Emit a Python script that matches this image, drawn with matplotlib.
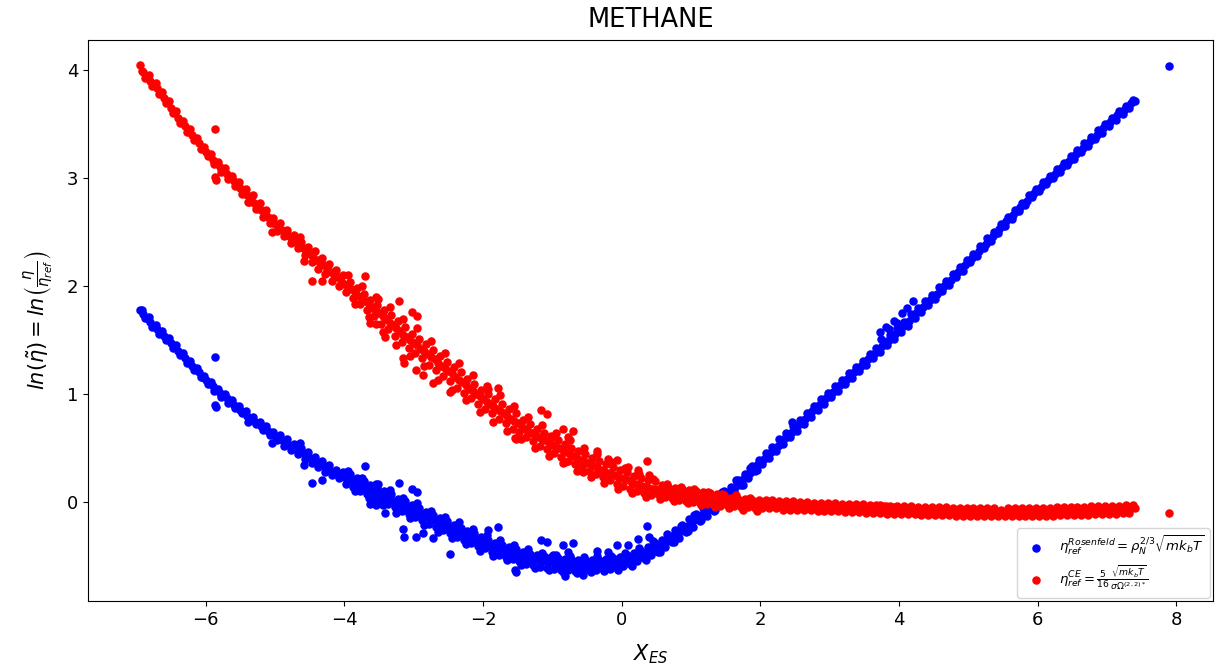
import numpy as np
import matplotlib
matplotlib.use("Agg")
import matplotlib.pyplot as plt

# state points, first sweep: X_ES and ln(eta/eta_ref) for both references
x_es = [
    -6.95, -6.90, -6.85, -6.80, -6.75, -6.70, -6.65, -6.60, -6.55, -6.50,
    -6.45, -6.40, -6.35, -6.30, -6.25, -6.20, -6.15, -6.10, -6.05, -6.00,
    -5.95, -5.90, -5.85, -5.80, -5.75, -5.70, -5.65, -5.60, -5.55, -5.50,
    -5.45, -5.40, -5.35, -5.30, -5.25, -5.20, -5.15, -5.10, -5.05, -5.00,
    -4.95, -4.90, -4.85, -4.80, -4.75, -4.70, -4.65, -4.60, -4.55, -4.50,
    -4.45, -4.40, -4.35, -4.30, -4.25, -4.20, -4.15, -4.10, -4.05, -4.00,
    -3.95, -3.90, -3.85, -3.80, -3.75, -3.70, -3.65, -3.60, -3.55, -3.50,
    -3.45, -3.40, -3.35, -3.30, -3.25, -3.20, -3.15, -3.10, -3.05, -3.00,
    -2.95, -2.90, -2.85, -2.80, -2.75, -2.70, -2.65, -2.60, -2.55, -2.50,
    -2.45, -2.40, -2.35, -2.30, -2.25, -2.20, -2.15, -2.10, -2.05, -2.00,
    -1.95, -1.90, -1.85, -1.80, -1.75, -1.70, -1.65, -1.60, -1.55, -1.50,
    -1.45, -1.40, -1.35, -1.30, -1.25, -1.20, -1.15, -1.10, -1.05, -1.00,
    -0.95, -0.90, -0.85, -0.80, -0.75, -0.70, -0.65, -0.60, -0.55, -0.50,
    -0.45, -0.40, -0.35, -0.30, -0.25, -0.20, -0.15, -0.10, -0.05, 0.00,
    0.05, 0.10, 0.15, 0.20, 0.25, 0.30, 0.35, 0.40, 0.45, 0.50,
    0.55, 0.60, 0.65, 0.70, 0.75, 0.80, 0.85, 0.90, 0.95, 1.00,
    1.05, 1.10, 1.15, 1.20, 1.25, 1.30, 1.35, 1.40, 1.45, 1.50,
    1.55, 1.60, 1.65, 1.70, 1.75, 1.80, 1.85, 1.90, 1.95, 2.00,
    2.05, 2.10, 2.15, 2.20, 2.25, 2.30, 2.35, 2.40, 2.45, 2.50,
    2.55, 2.60, 2.65, 2.70, 2.75, 2.80, 2.85, 2.90, 2.95, 3.00,
    3.05, 3.10, 3.15, 3.20, 3.25, 3.30, 3.35, 3.40, 3.45, 3.50,
    3.55, 3.60, 3.65, 3.70, 3.75, 3.80, 3.85, 3.90, 3.95, 4.00,
    4.05, 4.10, 4.15, 4.20, 4.25, 4.30, 4.35, 4.40, 4.45, 4.50,
    4.55, 4.60, 4.65, 4.70, 4.75, 4.80, 4.85, 4.90, 4.95, 5.00,
    5.05, 5.10, 5.15, 5.20, 5.25, 5.30, 5.35, 5.40, 5.45, 5.50,
    5.55, 5.60, 5.65, 5.70, 5.75, 5.80, 5.85, 5.90, 5.95, 6.00,
    6.05, 6.10, 6.15, 6.20, 6.25, 6.30, 6.35, 6.40, 6.45, 6.50,
    6.55, 6.60, 6.65, 6.70, 6.75, 6.80, 6.85, 6.90, 6.95, 7.00,
    7.05, 7.10, 7.15, 7.20, 7.25, 7.30, 7.35, 7.40, 7.90,
]
ln_eta_ros = [
    1.78, 1.74, 1.70, 1.67, 1.63, 1.60, 1.57, 1.54, 1.51, 1.47,
    1.44, 1.40, 1.37, 1.33, 1.30, 1.26, 1.23, 1.20, 1.16, 1.13,
    1.10, 1.07, 1.04, 1.01, 0.98, 0.96, 0.93, 0.90, 0.88, 0.85,
    0.83, 0.80, 0.78, 0.75, 0.73, 0.70, 0.68, 0.66, 0.63, 0.61,
    0.59, 0.57, 0.55, 0.53, 0.51, 0.49, 0.47, 0.45, 0.43, 0.41,
    0.39, 0.37, 0.35, 0.33, 0.31, 0.29, 0.28, 0.26, 0.25, 0.23,
    0.21, 0.20, 0.18, 0.16, 0.15, 0.13, 0.12, 0.10, 0.09, 0.07,
    0.06, 0.04, 0.03, 0.01, -0.01, -0.02, -0.04, -0.05, -0.07, -0.08,
    -0.10, -0.11, -0.13, -0.14, -0.16, -0.17, -0.19, -0.20, -0.22, -0.23,
    -0.25, -0.26, -0.28, -0.29, -0.31, -0.32, -0.33, -0.35, -0.36, -0.37,
    -0.39, -0.40, -0.42, -0.43, -0.44, -0.45, -0.46, -0.47, -0.48, -0.49,
    -0.50, -0.51, -0.52, -0.53, -0.53, -0.54, -0.55, -0.55, -0.56, -0.56,
    -0.57, -0.57, -0.58, -0.58, -0.58, -0.58, -0.59, -0.59, -0.59, -0.58,
    -0.58, -0.58, -0.58, -0.58, -0.57, -0.57, -0.57, -0.56, -0.56, -0.55,
    -0.54, -0.53, -0.52, -0.51, -0.50, -0.48, -0.47, -0.45, -0.43, -0.42,
    -0.40, -0.38, -0.36, -0.34, -0.31, -0.29, -0.27, -0.24, -0.22, -0.19,
    -0.17, -0.14, -0.12, -0.09, -0.07, -0.04, -0.02, 0.01, 0.04, 0.07,
    0.09, 0.12, 0.15, 0.18, 0.21, 0.24, 0.27, 0.31, 0.34, 0.37,
    0.40, 0.43, 0.46, 0.49, 0.52, 0.56, 0.59, 0.62, 0.65, 0.68,
    0.71, 0.74, 0.77, 0.80, 0.84, 0.87, 0.90, 0.93, 0.96, 0.99,
    1.02, 1.05, 1.08, 1.11, 1.14, 1.17, 1.20, 1.23, 1.26, 1.29,
    1.32, 1.35, 1.38, 1.41, 1.44, 1.47, 1.50, 1.53, 1.56, 1.59,
    1.62, 1.65, 1.68, 1.72, 1.75, 1.78, 1.81, 1.84, 1.87, 1.90,
    1.93, 1.97, 2.00, 2.03, 2.06, 2.09, 2.13, 2.16, 2.19, 2.22,
    2.26, 2.29, 2.32, 2.36, 2.39, 2.43, 2.46, 2.49, 2.53, 2.56,
    2.60, 2.63, 2.66, 2.69, 2.73, 2.76, 2.79, 2.83, 2.86, 2.89,
    2.92, 2.95, 2.98, 3.01, 3.04, 3.07, 3.10, 3.13, 3.16, 3.19,
    3.22, 3.25, 3.28, 3.31, 3.34, 3.37, 3.40, 3.43, 3.46, 3.49,
    3.52, 3.55, 3.58, 3.60, 3.63, 3.66, 3.69, 3.71, 4.04,
]
ln_eta_ce = [
    4.05, 3.98, 3.94, 3.90, 3.86, 3.83, 3.79, 3.74, 3.70, 3.65,
    3.61, 3.56, 3.52, 3.48, 3.44, 3.40, 3.36, 3.32, 3.28, 3.24,
    3.21, 3.17, 3.14, 3.10, 3.07, 3.04, 3.00, 2.97, 2.94, 2.91,
    2.87, 2.84, 2.81, 2.77, 2.74, 2.70, 2.67, 2.64, 2.60, 2.57,
    2.54, 2.52, 2.49, 2.46, 2.43, 2.41, 2.38, 2.35, 2.32, 2.30,
    2.27, 2.24, 2.21, 2.19, 2.16, 2.13, 2.10, 2.08, 2.05, 2.02,
    1.99, 1.97, 1.94, 1.91, 1.88, 1.86, 1.83, 1.80, 1.77, 1.75,
    1.72, 1.69, 1.66, 1.64, 1.61, 1.58, 1.55, 1.53, 1.50, 1.47,
    1.45, 1.42, 1.40, 1.37, 1.34, 1.32, 1.29, 1.26, 1.24, 1.21,
    1.19, 1.16, 1.13, 1.11, 1.08, 1.05, 1.03, 1.00, 0.98, 0.95,
    0.93, 0.91, 0.89, 0.86, 0.84, 0.82, 0.80, 0.77, 0.75, 0.73,
    0.71, 0.68, 0.66, 0.64, 0.62, 0.60, 0.58, 0.57, 0.55, 0.53,
    0.51, 0.50, 0.48, 0.46, 0.44, 0.43, 0.41, 0.39, 0.38, 0.36,
    0.35, 0.33, 0.32, 0.30, 0.29, 0.27, 0.26, 0.25, 0.23, 0.22,
    0.21, 0.20, 0.18, 0.17, 0.16, 0.15, 0.14, 0.13, 0.12, 0.12,
    0.11, 0.10, 0.09, 0.09, 0.08, 0.07, 0.07, 0.06, 0.06, 0.05,
    0.05, 0.04, 0.04, 0.03, 0.03, 0.02, 0.02, 0.01, 0.01, 0.01,
    0.00, 0.00, 0.00, -0.01, -0.01, -0.01, -0.01, -0.02, -0.02, -0.02,
    -0.02, -0.02, -0.02, -0.02, -0.03, -0.03, -0.03, -0.03, -0.03, -0.03,
    -0.03, -0.03, -0.03, -0.03, -0.04, -0.04, -0.04, -0.04, -0.04, -0.04,
    -0.04, -0.04, -0.05, -0.05, -0.05, -0.05, -0.05, -0.06, -0.06, -0.06,
    -0.06, -0.06, -0.06, -0.06, -0.07, -0.07, -0.07, -0.07, -0.07, -0.07,
    -0.07, -0.07, -0.07, -0.07, -0.08, -0.08, -0.08, -0.08, -0.08, -0.08,
    -0.08, -0.08, -0.08, -0.08, -0.09, -0.09, -0.09, -0.09, -0.09, -0.09,
    -0.09, -0.09, -0.09, -0.09, -0.09, -0.09, -0.09, -0.09, -0.10, -0.10,
    -0.09, -0.09, -0.09, -0.09, -0.09, -0.09, -0.09, -0.09, -0.09, -0.09,
    -0.09, -0.09, -0.09, -0.09, -0.09, -0.08, -0.08, -0.08, -0.08, -0.08,
    -0.08, -0.08, -0.08, -0.08, -0.08, -0.07, -0.07, -0.07, -0.07, -0.07,
    -0.07, -0.07, -0.07, -0.07, -0.06, -0.06, -0.06, -0.06, -0.10,
]

# second sweep, shifted half a step in X_ES
x_es_2 = [
    -6.925, -6.875, -6.825, -6.775, -6.725, -6.675, -6.625, -6.575, -6.525, -6.475,
    -6.425, -6.375, -6.325, -6.275, -6.225, -6.175, -6.125, -6.075, -6.025, -5.975,
    -5.925, -5.875, -5.825, -5.775, -5.725, -5.675, -5.625, -5.575, -5.525, -5.475,
    -5.425, -5.375, -5.325, -5.275, -5.225, -5.175, -5.125, -5.075, -5.025, -4.975,
    -4.925, -4.875, -4.825, -4.775, -4.725, -4.675, -4.625, -4.575, -4.525, -4.475,
    -4.425, -4.375, -4.325, -4.275, -4.225, -4.175, -4.125, -4.075, -4.025, -3.975,
    -3.925, -3.875, -3.825, -3.775, -3.725, -3.675, -3.625, -3.575, -3.525, -3.475,
    -3.425, -3.375, -3.325, -3.275, -3.225, -3.175, -3.125, -3.075, -3.025, -2.975,
    -2.925, -2.875, -2.825, -2.775, -2.725, -2.675, -2.625, -2.575, -2.525, -2.475,
    -2.425, -2.375, -2.325, -2.275, -2.225, -2.175, -2.125, -2.075, -2.025, -1.975,
    -1.925, -1.875, -1.825, -1.775, -1.725, -1.675, -1.625, -1.575, -1.525, -1.475,
    -1.425, -1.375, -1.325, -1.275, -1.225, -1.175, -1.125, -1.075, -1.025, -0.975,
    -0.925, -0.875, -0.825, -0.775, -0.725, -0.675, -0.625, -0.575, -0.525, -0.475,
    -0.425, -0.375, -0.325, -0.275, -0.225, -0.175, -0.125, -0.075, -0.025, 0.025,
    0.075, 0.125, 0.175, 0.225, 0.275, 0.325, 0.375, 0.425, 0.475, 0.525,
    0.575, 0.625, 0.675, 0.725, 0.775, 0.825, 0.875, 0.925, 0.975, 1.025,
    1.075, 1.125, 1.175, 1.225, 1.275, 1.325, 1.375, 1.425, 1.475, 1.525,
    1.575, 1.625, 1.675, 1.725, 1.775, 1.825, 1.875, 1.925, 1.975, 2.025,
    2.075, 2.125, 2.175, 2.225, 2.275, 2.325, 2.375, 2.425, 2.475, 2.525,
    2.575, 2.625, 2.675, 2.725, 2.775, 2.825, 2.875, 2.925, 2.975, 3.025,
    3.075, 3.125, 3.175, 3.225, 3.275, 3.325, 3.375, 3.425, 3.475, 3.525,
    3.575, 3.625, 3.675, 3.725, 3.775, 3.825, 3.875, 3.925, 3.975, 4.025,
    4.075, 4.125, 4.175, 4.225, 4.275, 4.325, 4.375, 4.425, 4.475, 4.525,
    4.575, 4.625, 4.675, 4.725, 4.775, 4.825, 4.875, 4.925, 4.975, 5.025,
    5.075, 5.125, 5.175, 5.225, 5.275, 5.325, 5.375, 5.425, 5.475, 5.525,
    5.575, 5.625, 5.675, 5.725, 5.775, 5.825, 5.875, 5.925, 5.975, 6.025,
    6.075, 6.125, 6.175, 6.225, 6.275, 6.325, 6.375, 6.425, 6.475, 6.525,
    6.575, 6.625, 6.675, 6.725, 6.775, 6.825, 6.875, 6.925, 6.975, 7.025,
    7.075, 7.125, 7.175, 7.225, 7.275, 7.325, 7.375,
]
ln_eta_ros_2 = [
    1.78, 1.70, 1.71, 1.62, 1.64, 1.56, 1.58, 1.50, 1.52, 1.43,
    1.45, 1.36, 1.38, 1.29, 1.31, 1.22, 1.24, 1.16, 1.17, 1.09,
    1.11, 1.03, 1.05, 0.97, 1.00, 0.92, 0.94, 0.87, 0.89, 0.82,
    0.84, 0.77, 0.79, 0.72, 0.74, 0.67, 0.70, 0.62, 0.65, 0.57,
    0.62, 0.52, 0.58, 0.48, 0.54, 0.44, 0.50, 0.40, 0.46, 0.36,
    0.42, 0.32, 0.38, 0.28, 0.34, 0.25, 0.30, 0.22, 0.28, 0.17,
    0.26, 0.14, 0.22, 0.10, 0.19, 0.07, 0.16, 0.04, 0.13, 0.01,
    0.10, -0.02, 0.07, -0.05, 0.03, -0.08, 0.01, -0.11, -0.03, -0.14,
    -0.06, -0.17, -0.09, -0.20, -0.12, -0.23, -0.15, -0.26, -0.18, -0.29,
    -0.21, -0.32, -0.24, -0.35, -0.27, -0.38, -0.29, -0.41, -0.32, -0.43,
    -0.35, -0.46, -0.38, -0.49, -0.40, -0.51, -0.42, -0.53, -0.44, -0.55,
    -0.46, -0.57, -0.48, -0.58, -0.49, -0.60, -0.50, -0.61, -0.51, -0.62,
    -0.52, -0.63, -0.53, -0.63, -0.53, -0.64, -0.54, -0.64, -0.54, -0.63,
    -0.54, -0.63, -0.54, -0.62, -0.53, -0.62, -0.52, -0.61, -0.51, -0.59,
    -0.49, -0.57, -0.47, -0.55, -0.45, -0.52, -0.42, -0.49, -0.38, -0.46,
    -0.35, -0.42, -0.31, -0.37, -0.26, -0.33, -0.21, -0.28, -0.16, -0.23,
    -0.11, -0.18, -0.06, -0.13, -0.01, -0.08, 0.04, -0.02, 0.10, 0.05,
    0.14, 0.10, 0.20, 0.16, 0.26, 0.22, 0.33, 0.29, 0.39, 0.35,
    0.45, 0.41, 0.51, 0.47, 0.58, 0.54, 0.64, 0.60, 0.70, 0.66,
    0.76, 0.72, 0.82, 0.79, 0.89, 0.85, 0.95, 0.91, 1.01, 0.97,
    1.07, 1.03, 1.13, 1.09, 1.19, 1.15, 1.25, 1.21, 1.31, 1.27,
    1.37, 1.33, 1.43, 1.39, 1.49, 1.45, 1.55, 1.51, 1.61, 1.57,
    1.67, 1.63, 1.74, 1.70, 1.80, 1.76, 1.86, 1.82, 1.92, 1.88,
    1.99, 1.95, 2.05, 2.01, 2.11, 2.08, 2.18, 2.14, 2.24, 2.22,
    2.30, 2.28, 2.37, 2.35, 2.44, 2.42, 2.50, 2.49, 2.57, 2.56,
    2.64, 2.62, 2.70, 2.69, 2.77, 2.75, 2.84, 2.82, 2.90, 2.88,
    2.96, 2.94, 3.02, 3.00, 3.08, 3.06, 3.14, 3.12, 3.20, 3.18,
    3.26, 3.24, 3.32, 3.30, 3.38, 3.36, 3.44, 3.42, 3.50, 3.48,
    3.56, 3.54, 3.62, 3.59, 3.67, 3.65, 3.72,
]
ln_eta_ce_2 = [
    3.99, 3.93, 3.95, 3.85, 3.88, 3.78, 3.80, 3.69, 3.71, 3.60,
    3.62, 3.51, 3.53, 3.43, 3.45, 3.35, 3.37, 3.27, 3.29, 3.20,
    3.22, 3.13, 3.15, 3.06, 3.09, 2.99, 3.02, 2.93, 2.96, 2.85,
    2.90, 2.78, 2.84, 2.71, 2.77, 2.64, 2.70, 2.58, 2.63, 2.51,
    2.58, 2.46, 2.52, 2.40, 2.47, 2.35, 2.41, 2.29, 2.36, 2.22,
    2.32, 2.16, 2.26, 2.11, 2.20, 2.05, 2.15, 2.00, 2.10, 1.94,
    2.04, 1.89, 1.98, 1.83, 1.93, 1.78, 1.87, 1.72, 1.82, 1.65,
    1.78, 1.60, 1.73, 1.54, 1.68, 1.48, 1.62, 1.43, 1.56, 1.38,
    1.51, 1.33, 1.46, 1.27, 1.41, 1.22, 1.35, 1.17, 1.30, 1.12,
    1.25, 1.06, 1.20, 1.01, 1.14, 0.96, 1.09, 0.91, 1.04, 0.86,
    1.00, 0.82, 0.95, 0.77, 0.91, 0.73, 0.86, 0.68, 0.82, 0.65,
    0.76, 0.60, 0.72, 0.56, 0.68, 0.52, 0.64, 0.49, 0.61, 0.45,
    0.57, 0.42, 0.54, 0.38, 0.50, 0.35, 0.47, 0.32, 0.44, 0.29,
    0.41, 0.26, 0.38, 0.23, 0.35, 0.20, 0.32, 0.17, 0.30, 0.15,
    0.28, 0.12, 0.24, 0.10, 0.22, 0.08, 0.20, 0.06, 0.19, 0.07,
    0.16, 0.05, 0.14, 0.04, 0.13, 0.02, 0.12, 0.01, 0.11, 0.00,
    0.10, -0.01, 0.09, -0.02, 0.08, -0.03, 0.07, -0.04, 0.06, -0.03,
    0.04, -0.04, 0.03, -0.05, 0.03, -0.05, 0.02, -0.06, 0.02, -0.06,
    0.02, -0.06, 0.02, -0.06, 0.01, -0.07, 0.01, -0.07, 0.01, -0.07,
    0.00, -0.07, 0.00, -0.07, -0.01, -0.08, -0.01, -0.08, -0.01, -0.08,
    -0.01, -0.08, -0.02, -0.09, -0.02, -0.09, -0.02, -0.09, -0.02, -0.10,
    -0.03, -0.10, -0.03, -0.10, -0.04, -0.11, -0.04, -0.11, -0.04, -0.11,
    -0.04, -0.11, -0.04, -0.11, -0.05, -0.12, -0.05, -0.12, -0.05, -0.12,
    -0.05, -0.12, -0.05, -0.12, -0.06, -0.13, -0.06, -0.13, -0.06, -0.13,
    -0.06, -0.13, -0.06, -0.13, -0.06, -0.13, -0.06, -0.13, -0.07, -0.13,
    -0.06, -0.13, -0.06, -0.13, -0.06, -0.13, -0.06, -0.13, -0.06, -0.13,
    -0.06, -0.13, -0.06, -0.13, -0.05, -0.12, -0.05, -0.12, -0.05, -0.12,
    -0.05, -0.12, -0.05, -0.12, -0.04, -0.11, -0.04, -0.11, -0.04, -0.11,
    -0.04, -0.11, -0.04, -0.10, -0.03, -0.10, -0.03,
]

# third sweep through the wider, noisier middle of both bands
x_es_3 = [
    -3.95, -3.85, -3.75, -3.65, -3.55, -3.45, -3.35, -3.25, -3.15, -3.05,
    -2.95, -2.85, -2.75, -2.65, -2.55, -2.45, -2.35, -2.25, -2.15, -2.05,
    -1.95, -1.85, -1.75, -1.65, -1.55, -1.45, -1.35, -1.25, -1.15, -1.05,
    -0.95, -0.85, -0.75, -0.65, -0.55, -0.45, -0.35, -0.25, -0.15, -0.05,
    0.05, 0.15, 0.25, 0.35, 0.45, 0.55, 0.65, 0.75, 0.85, 0.95,
    1.05, 1.15, 1.25, 1.35, 1.45, 1.55, 1.65, 1.75, 1.85, 1.95,
]
ln_eta_ros_3 = [
    0.29, 0.10, 0.22, 0.04, 0.17, -0.03, 0.11, -0.10, 0.04, -0.15,
    -0.01, -0.21, -0.08, -0.28, -0.14, -0.33, -0.19, -0.39, -0.25, -0.45,
    -0.31, -0.50, -0.35, -0.54, -0.40, -0.58, -0.44, -0.61, -0.47, -0.63,
    -0.49, -0.65, -0.50, -0.66, -0.51, -0.65, -0.50, -0.64, -0.50, -0.63,
    -0.47, -0.59, -0.43, -0.54, -0.36, -0.46, -0.30, -0.37, -0.22, -0.27,
    -0.12, -0.17, -0.02, -0.07, 0.09, 0.04, 0.20, 0.16, 0.31, 0.30,
]
ln_eta_ce_3 = [
    2.10, 1.83, 2.00, 1.71, 1.90, 1.57, 1.81, 1.45, 1.69, 1.35,
    1.61, 1.26, 1.49, 1.13, 1.38, 1.04, 1.29, 0.94, 1.18, 0.83,
    1.07, 0.74, 0.99, 0.66, 0.89, 0.58, 0.79, 0.50, 0.71, 0.43,
    0.64, 0.36, 0.57, 0.29, 0.50, 0.23, 0.44, 0.18, 0.37, 0.12,
    0.31, 0.08, 0.26, 0.05, 0.21, 0.03, 0.17, 0.01, 0.14, -0.01,
    0.12, -0.03, 0.09, -0.05, 0.07, -0.06, 0.06, -0.07, 0.04, -0.08,
]

# scattered state points lying off the main bands
x_es_off = [
    -5.87, -5.87, -5.85, -5.39, -5.04, -4.64, -4.59, -4.47, -4.33, -3.71,
    -3.63, -3.54, -3.51, -3.42, -3.21, -3.16, -3.14, -3.02, -2.97, -2.95,
    -2.86, -2.72, -2.47, -1.93, -1.78, -1.54, -1.53, -1.16, -1.08, -0.99,
    -0.84, -0.82, -0.77, -0.70, -0.56, -0.36, -0.20, -0.07, 0.09, 0.24,
    0.36, 0.40, 2.45, 3.72, 3.74, 3.82, 3.86, 3.93, 3.97, 4.05,
    4.12, 4.20,
]
ln_eta_ros_off = [
    1.34, 0.90, 0.88, 0.74, 0.55, 0.55, 0.34, 0.18, 0.20, 0.33,
    -0.02, -0.03, 0.17, -0.10, 0.18, -0.25, -0.32, 0.12, -0.32, 0.09,
    -0.29, -0.33, -0.48, -0.26, -0.23, -0.63, -0.65, -0.35, -0.37, -0.49,
    -0.40, -0.69, -0.46, -0.38, -0.68, -0.45, -0.46, -0.40, -0.40, -0.34,
    -0.22, -0.32, 0.74, 1.57, 1.51, 1.62, 1.60, 1.68, 1.66, 1.75,
    1.80, 1.86,
]
ln_eta_ce_off = [
    3.45, 3.01, 2.98, 2.78, 2.50, 2.45, 2.23, 2.05, 2.05, 2.09,
    1.66, 1.65, 1.88, 1.53, 1.86, 1.33, 1.29, 1.76, 1.22, 1.72,
    1.18, 1.10, 1.02, 1.05, 1.06, 0.59, 0.58, 0.85, 0.81, 0.60,
    0.68, 0.37, 0.60, 0.66, 0.28, 0.47, 0.40, 0.39, 0.32, 0.30,
    0.38, 0.25, -0.02, -0.03, -0.05, -0.04, -0.06, -0.05, -0.07, -0.06,
    -0.08, -0.07,
]

x_all = np.concatenate([x_es, x_es_2, x_es_3, x_es_off])
y_ros = np.concatenate([ln_eta_ros, ln_eta_ros_2, ln_eta_ros_3, ln_eta_ros_off])
y_ce = np.concatenate([ln_eta_ce, ln_eta_ce_2, ln_eta_ce_3, ln_eta_ce_off])

fig = plt.figure(figsize=(12.22, 6.70), dpi=100)
ax = fig.add_axes([0.072, 0.103, 0.9206, 0.8373])

ax.scatter(x_all, y_ros, s=26, color='blue',
           label=r'$\eta_{ref}^{Rosenfeld} = \rho_N^{2/3}\sqrt{mk_bT}$')
ax.scatter(x_all, y_ce, s=26, color='red',
           label=r'$\eta_{ref}^{CE} = \frac{5}{16}\frac{\sqrt{mk_bT}}{\sigma\Omega^{(2,2)*}}$')

ax.set_xlim(-7.70, 8.53)
ax.set_ylim(-0.917, 4.278)
ax.set_xticks([-6, -4, -2, 0, 2, 4, 6, 8])
ax.set_yticks([0, 1, 2, 3, 4])
ax.tick_params(labelsize=13)

ax.set_title('METHANE', fontsize=18.5, pad=9)
ax.set_xlabel(r'$X_{ES}$', fontsize=15, labelpad=10)
ax.set_ylabel(r'$ln(\tilde{\eta}) = ln\left(\frac{\eta}{\eta_{ref}}\right)$',
              fontsize=15, labelpad=8)
ax.legend(loc='lower right', fontsize=9.5, borderaxespad=0.25)

plt.savefig('out.png', dpi=100)
